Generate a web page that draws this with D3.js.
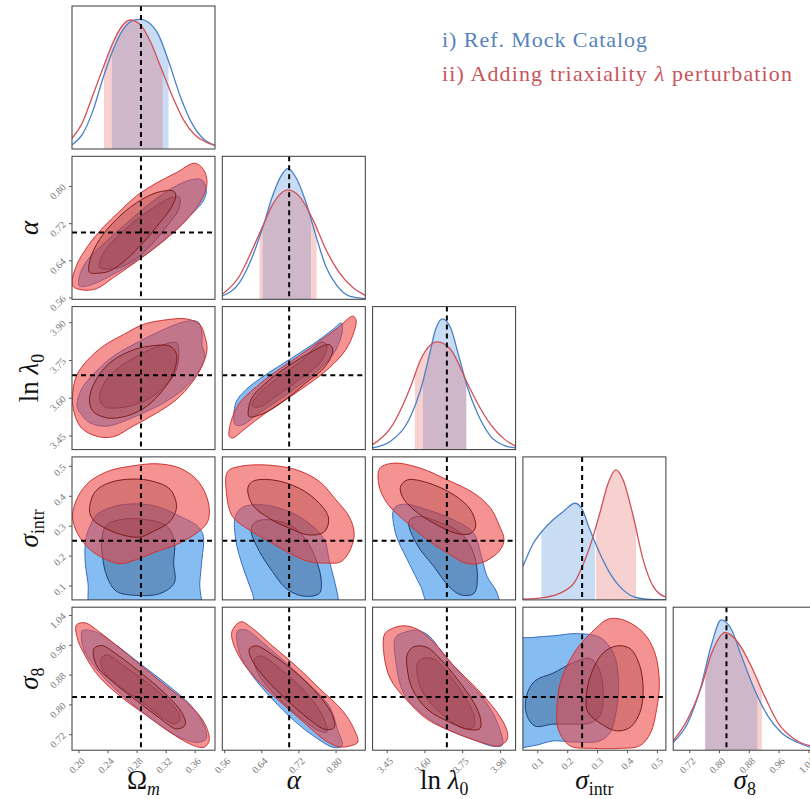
<!DOCTYPE html>
<html>
<head>
<meta charset="utf-8">
<script src="https://cdn.jsdelivr.net/npm/d3@7"></script>
<style>
  body { margin: 0; background: #fff; }
  svg { display: block; }
</style>
</head>
<body>
<div id="chart"></div>
<script>
// ---- parameters ----
const names = ["Om", "alpha", "lnl0", "sint", "s8"]
const ranges = [[0.191, 0.388], [0.556, 0.864], [3.394, 3.962], [0.052, 0.530], [0.677, 1.061]]
const ticks = [
  [0.20, 0.24, 0.28, 0.32, 0.36],
  [0.56, 0.64, 0.72, 0.80],
  [3.45, 3.60, 3.75, 3.90],
  [0.1, 0.2, 0.3, 0.4, 0.5],
  [0.72, 0.80, 0.88, 0.96, 1.04]
]
const tickDigits = [2, 2, 2, 1, 2]
const truth = [0.286, 0.70, 3.689, 0.25, 0.82]

// ---- 1D marginals (relative height) ----
const pdfRef = [
  [[0.191,0.030],[0.205,0.10],[0.220,0.27],[0.234,0.50],[0.248,0.70],[0.262,0.84],[0.275,0.90],[0.285,0.907],[0.295,0.89],[0.310,0.80],[0.325,0.60],[0.340,0.37],[0.355,0.19],[0.370,0.08],[0.388,0.025]],
  [[0.556,0.023],[0.593,0.117],[0.621,0.30],[0.643,0.50],[0.664,0.72],[0.682,0.86],[0.697,0.914],[0.715,0.85],[0.736,0.68],[0.758,0.44],[0.779,0.23],[0.801,0.105],[0.830,0.023],[0.864,0.005]],
  [[3.394,0.012],[3.465,0.058],[3.545,0.233],[3.585,0.42],[3.618,0.65],[3.644,0.84],[3.671,0.914],[3.704,0.85],[3.737,0.65],[3.770,0.44],[3.810,0.256],[3.863,0.093],[3.916,0.03],[3.962,0.012]],
  [[0.052,0.233],[0.087,0.396],[0.120,0.49],[0.153,0.56],[0.187,0.618],[0.226,0.676],[0.248,0.641],[0.276,0.49],[0.309,0.326],[0.343,0.186],[0.376,0.093],[0.421,0.023],[0.465,0.005],[0.530,0.0]],
  [[0.677,0.054],[0.716,0.19],[0.752,0.45],[0.779,0.73],[0.806,0.911],[0.833,0.846],[0.860,0.66],[0.895,0.427],[0.931,0.24],[0.967,0.124],[1.012,0.054],[1.048,0.019],[1.061,0.012]]
]
const pdfPer = [
  [[0.191,0.075],[0.205,0.18],[0.220,0.38],[0.234,0.57],[0.248,0.75],[0.260,0.86],[0.271,0.902],[0.285,0.87],[0.300,0.74],[0.315,0.55],[0.330,0.36],[0.345,0.20],[0.360,0.10],[0.375,0.05],[0.388,0.025]],
  [[0.556,0.035],[0.593,0.163],[0.621,0.35],[0.643,0.51],[0.664,0.66],[0.697,0.765],[0.722,0.72],[0.751,0.56],[0.779,0.35],[0.808,0.186],[0.837,0.082],[0.864,0.028]],
  [[3.394,0.035],[3.465,0.15],[3.545,0.44],[3.585,0.63],[3.651,0.753],[3.704,0.70],[3.770,0.466],[3.810,0.326],[3.863,0.175],[3.916,0.075],[3.962,0.023]],
  [[0.052,0.005],[0.120,0.016],[0.187,0.058],[0.226,0.128],[0.248,0.221],[0.276,0.373],[0.309,0.606],[0.337,0.816],[0.363,0.909],[0.387,0.839],[0.421,0.583],[0.454,0.28],[0.488,0.093],[0.530,0.019]],
  [[0.677,0.065],[0.716,0.217],[0.752,0.438],[0.779,0.67],[0.817,0.823],[0.851,0.753],[0.886,0.59],[0.922,0.38],[0.958,0.193],[1.003,0.077],[1.048,0.03],[1.061,0.025]]
]
const ciRef = [[0.246,0.324],[0.643,0.747],[3.594,3.766],[0.114,0.293],[0.763,0.903]]
const ciPer = [[0.235,0.316],[0.636,0.759],[3.562,3.766],[0.296,0.430],[0.763,0.915]]

// ---- 2D contours (x = column param, y = row param) ----
const cAlphaOm = {
  ref95: [[0.201,0.585],[0.202,0.610],[0.213,0.642],[0.234,0.675],[0.262,0.714],[0.294,0.757],[0.326,0.793],[0.354,0.813],[0.370,0.813],[0.376,0.790],[0.372,0.768],[0.358,0.743],[0.335,0.707],[0.308,0.671],[0.280,0.639],[0.248,0.610],[0.225,0.592],[0.209,0.584]],
  ref68: [[0.229,0.624],[0.232,0.649],[0.248,0.682],[0.275,0.721],[0.303,0.753],[0.328,0.775],[0.339,0.775],[0.338,0.750],[0.324,0.718],[0.301,0.675],[0.278,0.642],[0.255,0.624],[0.239,0.621]],
  per95: [[0.1917,0.585],[0.197,0.628],[0.213,0.671],[0.234,0.711],[0.257,0.746],[0.280,0.779],[0.308,0.807],[0.335,0.829],[0.360,0.849],[0.372,0.836],[0.377,0.807],[0.370,0.772],[0.354,0.736],[0.331,0.700],[0.303,0.664],[0.275,0.632],[0.248,0.603],[0.225,0.579],[0.206,0.576]],
  per68: [[0.215,0.614],[0.216,0.642],[0.229,0.685],[0.252,0.728],[0.280,0.764],[0.308,0.786],[0.331,0.789],[0.334,0.779],[0.328,0.754],[0.312,0.721],[0.289,0.678],[0.266,0.642],[0.243,0.617],[0.225,0.612]]
}
const cLnlOm = {
  ref95: [[0.198,3.566],[0.204,3.633],[0.220,3.692],[0.248,3.765],[0.280,3.818],[0.312,3.864],[0.349,3.904],[0.365,3.900],[0.370,3.858],[0.370,3.811],[0.374,3.765],[0.367,3.712],[0.349,3.646],[0.321,3.586],[0.294,3.546],[0.266,3.511],[0.239,3.487],[0.216,3.500],[0.204,3.533]],
  ref68: [[0.229,3.593],[0.234,3.652],[0.252,3.712],[0.285,3.772],[0.317,3.811],[0.335,3.818],[0.338,3.765],[0.333,3.699],[0.312,3.626],[0.285,3.580],[0.257,3.560],[0.236,3.564]],
  per95: [[0.1917,3.606],[0.197,3.686],[0.211,3.745],[0.234,3.805],[0.262,3.851],[0.289,3.891],[0.317,3.908],[0.349,3.913],[0.367,3.891],[0.374,3.844],[0.377,3.791],[0.370,3.725],[0.356,3.659],[0.335,3.593],[0.308,3.540],[0.275,3.487],[0.248,3.445],[0.225,3.447],[0.204,3.480],[0.194,3.540]],
  per68: [[0.215,3.593],[0.223,3.666],[0.243,3.738],[0.271,3.785],[0.298,3.805],[0.326,3.805],[0.335,3.772],[0.331,3.699],[0.317,3.633],[0.294,3.566],[0.266,3.527],[0.239,3.520],[0.220,3.546]]
}
const cSintOm = {
  ref95: [[0.210,0.253],[0.2156,0.298],[0.225,0.337],[0.248,0.364],[0.280,0.373],[0.308,0.364],[0.340,0.331],[0.365,0.296],[0.372,0.264],[0.370,0.187],[0.367,0.109],[0.365,0.0],[0.220,0.0],[0.213,0.109],[0.209,0.187]],
  ref68: [[0.232,0.253],[0.238,0.300],[0.262,0.322],[0.294,0.320],[0.321,0.300],[0.332,0.248],[0.331,0.176],[0.332,0.109],[0.312,0.073],[0.280,0.067],[0.252,0.081],[0.239,0.131],[0.233,0.198]],
  per95: [[0.1917,0.331],[0.1995,0.398],[0.2156,0.448],[0.243,0.484],[0.275,0.500],[0.308,0.507],[0.340,0.492],[0.365,0.448],[0.379,0.376],[0.378,0.314],[0.363,0.276],[0.335,0.237],[0.308,0.214],[0.280,0.187],[0.257,0.173],[0.234,0.192],[0.216,0.220],[0.1995,0.270]],
  per68: [[0.215,0.353],[0.223,0.414],[0.243,0.444],[0.275,0.456],[0.303,0.448],[0.326,0.422],[0.335,0.364],[0.326,0.314],[0.303,0.281],[0.285,0.262],[0.264,0.267],[0.239,0.289],[0.220,0.320]]
}
const cS8Om = {
  ref95: [[0.205,0.998],[0.223,0.995],[0.250,0.962],[0.285,0.909],[0.321,0.855],[0.354,0.799],[0.372,0.748],[0.376,0.709],[0.365,0.698],[0.342,0.709],[0.312,0.745],[0.280,0.792],[0.248,0.846],[0.221,0.904],[0.207,0.949],[0.204,0.983]],
  ref68: [[0.231,0.922],[0.239,0.933],[0.262,0.904],[0.294,0.859],[0.324,0.810],[0.340,0.766],[0.334,0.748],[0.317,0.763],[0.285,0.810],[0.252,0.855],[0.234,0.891]],
  per95: [[0.197,1.013],[0.209,1.019],[0.229,0.994],[0.257,0.951],[0.289,0.900],[0.321,0.849],[0.354,0.797],[0.374,0.748],[0.380,0.703],[0.373,0.685],[0.358,0.690],[0.326,0.725],[0.294,0.770],[0.262,0.815],[0.229,0.873],[0.209,0.931],[0.198,0.980]],
  per68: [[0.221,0.949],[0.232,0.958],[0.255,0.931],[0.285,0.886],[0.317,0.833],[0.342,0.779],[0.347,0.745],[0.335,0.734],[0.312,0.763],[0.280,0.810],[0.248,0.859],[0.225,0.904]]
}
const cLnlAlpha = {
  ref95: [[0.584,3.493],[0.585,3.579],[0.607,3.632],[0.650,3.692],[0.700,3.751],[0.750,3.811],[0.794,3.871],[0.812,3.897],[0.815,3.871],[0.801,3.791],[0.772,3.725],[0.729,3.659],[0.679,3.593],[0.636,3.540],[0.600,3.493]],
  ref68: [[0.620,3.569],[0.636,3.619],[0.679,3.683],[0.729,3.751],[0.769,3.820],[0.781,3.811],[0.769,3.745],[0.722,3.672],[0.672,3.606],[0.636,3.563]],
  per95: [[0.571,3.447],[0.575,3.507],[0.593,3.579],[0.629,3.643],[0.672,3.705],[0.722,3.767],[0.765,3.824],[0.804,3.877],[0.837,3.924],[0.844,3.910],[0.840,3.864],[0.822,3.791],[0.786,3.718],[0.740,3.652],[0.693,3.593],[0.650,3.540],[0.607,3.480],[0.578,3.440]],
  per68: [[0.613,3.526],[0.618,3.593],[0.650,3.659],[0.700,3.728],[0.751,3.785],[0.786,3.811],[0.794,3.789],[0.778,3.725],[0.736,3.659],[0.693,3.593],[0.650,3.542],[0.621,3.524]]
}
const cSintAlpha = {
  ref95: [[0.584,0.331],[0.600,0.362],[0.643,0.370],[0.700,0.347],[0.743,0.308],[0.776,0.253],[0.786,0.186],[0.797,0.119],[0.806,0.052],[0.806,0.0],[0.636,0.0],[0.621,0.074],[0.600,0.163],[0.585,0.253]],
  ref68: [[0.618,0.286],[0.629,0.314],[0.664,0.319],[0.708,0.297],[0.736,0.253],[0.758,0.186],[0.769,0.119],[0.765,0.074],[0.729,0.065],[0.693,0.091],[0.664,0.147],[0.636,0.214]],
  per95: [[0.5675,0.481],[0.593,0.498],[0.650,0.503],[0.715,0.487],[0.765,0.448],[0.801,0.386],[0.829,0.331],[0.840,0.275],[0.833,0.225],[0.812,0.180],[0.779,0.175],[0.743,0.180],[0.708,0.202],[0.657,0.247],[0.614,0.286],[0.578,0.331],[0.565,0.409]],
  per68: [[0.611,0.425],[0.621,0.448],[0.664,0.453],[0.722,0.425],[0.765,0.375],[0.785,0.325],[0.776,0.280],[0.743,0.269],[0.700,0.292],[0.657,0.325],[0.621,0.370]]
}
const cS8Alpha = {
  ref95: [[0.589,0.997],[0.607,1.000],[0.643,0.966],[0.693,0.912],[0.743,0.854],[0.786,0.796],[0.804,0.733],[0.814,0.689],[0.797,0.684],[0.754,0.714],[0.711,0.756],[0.664,0.814],[0.621,0.877],[0.594,0.935]],
  ref68: [[0.625,0.921],[0.639,0.930],[0.686,0.890],[0.736,0.832],[0.772,0.769],[0.781,0.726],[0.765,0.729],[0.729,0.760],[0.679,0.814],[0.636,0.877]],
  per95: [[0.577,0.997],[0.596,1.022],[0.621,1.004],[0.664,0.957],[0.715,0.903],[0.765,0.843],[0.815,0.783],[0.840,0.733],[0.848,0.699],[0.833,0.689],[0.808,0.686],[0.779,0.702],[0.736,0.747],[0.686,0.801],[0.636,0.859],[0.596,0.921],[0.578,0.971]],
  per68: [[0.614,0.948],[0.629,0.957],[0.672,0.926],[0.722,0.877],[0.765,0.823],[0.794,0.769],[0.797,0.738],[0.779,0.732],[0.743,0.760],[0.693,0.814],[0.650,0.868],[0.621,0.917]]
}
const cSintLnl = {
  ref95: [[3.479,0.358],[3.518,0.372],[3.611,0.353],[3.717,0.319],[3.796,0.275],[3.823,0.208],[3.849,0.130],[3.889,0.074],[3.896,0.0],[3.638,0.0],[3.585,0.097],[3.532,0.186],[3.485,0.275]],
  ref68: [[3.538,0.314],[3.571,0.331],[3.651,0.314],[3.744,0.275],[3.790,0.219],[3.810,0.141],[3.797,0.074],[3.744,0.069],[3.697,0.097],[3.638,0.163],[3.571,0.236]],
  per95: [[3.423,0.492],[3.479,0.509],[3.585,0.492],[3.691,0.453],[3.796,0.409],[3.863,0.358],[3.896,0.303],[3.916,0.253],[3.896,0.214],[3.823,0.175],[3.763,0.175],[3.704,0.202],[3.611,0.253],[3.525,0.314],[3.452,0.375],[3.419,0.436]],
  per68: [[3.505,0.431],[3.532,0.453],[3.611,0.444],[3.717,0.403],[3.783,0.353],[3.803,0.297],[3.781,0.273],[3.724,0.275],[3.638,0.308],[3.558,0.353],[3.512,0.397]]
}
const cS8Lnl = {
  ref95: [[3.485,0.980],[3.518,0.993],[3.571,0.999],[3.618,0.984],[3.671,0.939],[3.750,0.877],[3.836,0.814],[3.892,0.747],[3.909,0.691],[3.876,0.687],[3.796,0.705],[3.691,0.733],[3.585,0.778],[3.516,0.832],[3.489,0.903]],
  ref68: [[3.571,0.908],[3.591,0.923],[3.638,0.921],[3.691,0.886],[3.757,0.823],[3.797,0.769],[3.794,0.738],[3.757,0.735],[3.691,0.762],[3.611,0.814],[3.578,0.859]],
  per95: [[3.442,0.989],[3.472,1.004],[3.518,1.011],[3.571,1.002],[3.638,0.966],[3.717,0.903],[3.810,0.841],[3.889,0.778],[3.926,0.733],[3.929,0.707],[3.900,0.689],[3.836,0.696],[3.717,0.725],[3.611,0.760],[3.532,0.810],[3.465,0.868],[3.439,0.935]],
  per68: [[3.532,0.935],[3.558,0.955],[3.611,0.953],[3.664,0.921],[3.730,0.868],[3.796,0.805],[3.823,0.760],[3.820,0.735],[3.781,0.732],[3.704,0.751],[3.611,0.787],[3.552,0.841],[3.532,0.895]]
}
const cS8Sint = {
  ref95: [[0.0,0.966],[0.087,0.980],[0.153,0.984],[0.231,0.990],[0.309,0.980],[0.354,0.939],[0.372,0.859],[0.365,0.787],[0.343,0.724],[0.309,0.702],[0.220,0.699],[0.153,0.702],[0.087,0.689],[0.0,0.689]],
  ref68: [[0.064,0.823],[0.092,0.863],[0.153,0.884],[0.220,0.912],[0.276,0.923],[0.309,0.890],[0.320,0.823],[0.309,0.769],[0.276,0.750],[0.220,0.747],[0.153,0.747],[0.092,0.742],[0.064,0.774]],
  per95: [[0.167,0.805],[0.181,0.868],[0.231,0.948],[0.293,1.002],[0.337,1.029],[0.387,1.027],[0.454,0.993],[0.493,0.939],[0.508,0.859],[0.499,0.787],[0.479,0.724],[0.443,0.689],[0.376,0.682],[0.287,0.682],[0.209,0.689],[0.170,0.734]],
  per68: [[0.263,0.809],[0.278,0.877],[0.320,0.938],[0.365,0.957],[0.410,0.950],[0.441,0.908],[0.454,0.841],[0.443,0.778],[0.410,0.738],[0.365,0.729],[0.309,0.750],[0.270,0.778]]
}
// [row, col, contours]
const panels2d = [
  [1, 0, cAlphaOm], [2, 0, cLnlOm], [3, 0, cSintOm], [4, 0, cS8Om],
  [2, 1, cLnlAlpha], [3, 1, cSintAlpha], [4, 1, cS8Alpha],
  [3, 2, cSintLnl], [4, 2, cS8Lnl],
  [4, 3, cS8Sint]
]

// ---- layout ----
const W = 810, H = 799
const padL = 72, padT = 6, size = 143, step = 150.3
const serif = "'Liberation Serif', 'DejaVu Serif', serif"

const refLine = "#4a80c8", perLine = "#d2505a"
const contourStyle = [
  { key: "ref95", fill: "#3390e8", op: 0.6, stroke: "#3b6fc0" },
  { key: "ref68", fill: "#2a4f78", op: 0.38, stroke: "#1d3f78" },
  { key: "per95", fill: "#ee4444", op: 0.58, stroke: "#cf3434" },
  { key: "per68", fill: "#9a3434", op: 0.32, stroke: "#7d1c1c" }
]

const svg = d3.select("#chart").append("svg")
  .attr("width", W).attr("height", H)
  .style("background", "#fff")
const defs = svg.append("defs")

const xs = ranges.map(r => d3.scaleLinear().domain(r).range([0, size]))
const ys = ranges.map(r => d3.scaleLinear().domain(r).range([size, 0]))
const dens = d3.scaleLinear().domain([0, 1]).range([size, 0])

function panelGroup(row, col) {
  const id = `clip-${row}-${col}`
  defs.append("clipPath").attr("id", id)
    .append("rect").attr("width", size).attr("height", size)
  const g = svg.append("g")
    .attr("transform", `translate(${padL + col * step},${padT + row * step})`)
  const inner = g.append("g").attr("clip-path", `url(#${id})`)
  return [g, inner]
}

function dashed(inner, row, col) {
  inner.append("line")
    .attr("x1", xs[col](truth[col])).attr("x2", xs[col](truth[col]))
    .attr("y1", 0).attr("y2", size)
    .attr("stroke", "#000").attr("stroke-width", 2).attr("stroke-dasharray", "5,4")
  if (row !== col) {
    inner.append("line")
      .attr("x1", 0).attr("x2", size)
      .attr("y1", ys[row](truth[row])).attr("y2", ys[row](truth[row]))
      .attr("stroke", "#000").attr("stroke-width", 2).attr("stroke-dasharray", "5,4")
  }
}

// diagonal
for (let i = 0; i < 5; i++) {
  const [g, inner] = panelGroup(i, i)
  const area = d3.area().x(d => xs[i](d[0])).y0(size).y1(d => dens(d[1])).curve(d3.curveMonotoneX)
  const line = d3.line().x(d => xs[i](d[0])).y(d => dens(d[1])).curve(d3.curveMonotoneX)
  const sets = [[pdfRef[i], ciRef[i], "#2b7bd6"], [pdfPer[i], ciPer[i], "#e04848"]]
  sets.forEach((s, k) => {
    const cid = `ci-${i}-${k}`
    defs.append("clipPath").attr("id", cid).append("rect")
      .attr("x", xs[i](s[1][0])).attr("width", xs[i](s[1][1]) - xs[i](s[1][0]))
      .attr("y", 0).attr("height", size)
    inner.append("g").attr("clip-path", `url(#${cid})`)
      .append("path").attr("d", area(s[0]))
      .attr("fill", s[2]).attr("fill-opacity", 0.26)
  })
  inner.append("path").attr("d", line(pdfRef[i])).attr("fill", "none").attr("stroke", refLine).attr("stroke-width", 1.3)
  inner.append("path").attr("d", line(pdfPer[i])).attr("fill", "none").attr("stroke", perLine).attr("stroke-width", 1.3)
  dashed(inner, i, i)
}

// off-diagonal
panels2d.forEach(([row, col, c]) => {
  const [g, inner] = panelGroup(row, col)
  const line = d3.line()
    .x(d => xs[col](d[0])).y(d => ys[row](d[1]))
    .curve(d3.curveCatmullRomClosed.alpha(0.5))
  contourStyle.forEach(st => {
    inner.append("path").attr("d", line(c[st.key]))
      .attr("fill", st.fill).attr("fill-opacity", st.op)
      .attr("stroke", st.stroke).attr("stroke-width", 1)
  })
  dashed(inner, row, col)
})

// frames and axes
for (let row = 0; row < 5; row++) {
  for (let col = 0; col <= row; col++) {
    const g = svg.append("g")
      .attr("transform", `translate(${padL + col * step},${padT + row * step})`)
    g.append("rect").attr("width", size).attr("height", size)
      .attr("fill", "none").attr("stroke", "#3a3a3a").attr("stroke-width", 1)

    if (col === 0 && row > 0) {
      const ax = g.append("g").call(d3.axisLeft(ys[row]).tickValues(ticks[row])
        .tickSize(3).tickFormat(d3.format(`.${tickDigits[row]}f`)))
      ax.select(".domain").remove()
      ax.selectAll("line").attr("stroke", "#555")
      ax.selectAll("text")
        .attr("x", 0).attr("y", 0).attr("dy", "0.35em")
        .attr("transform", "translate(-8,-1) rotate(-45)")
        .attr("text-anchor", "end")
        .attr("fill", "#777").style("font-family", serif).style("font-size", "10px")
    }
    if (row === 4) {
      const ax = g.append("g").attr("transform", `translate(0,${size})`)
        .call(d3.axisBottom(xs[col]).tickValues(ticks[col])
          .tickSize(3).tickFormat(d3.format(`.${tickDigits[col]}f`)))
      ax.select(".domain").remove()
      ax.selectAll("line").attr("stroke", "#555")
      ax.selectAll("text")
        .attr("x", 0).attr("y", 0).attr("dy", "0.35em")
        .attr("transform", "translate(4,9) rotate(-45)")
        .attr("text-anchor", "end")
        .attr("fill", "#777").style("font-family", serif).style("font-size", "10px")
    }
  }
}

// axis labels
function writeLabel(t, i) {
  const sub = (s, italic) => t.append("tspan").attr("dy", "0.32em").style("font-size", "0.66em")
    .style("font-style", italic ? "italic" : "normal").text(s)
  if (i === 0) { t.append("tspan").text("Ω"); sub("m", true) }
  if (i === 1) { t.append("tspan").style("font-style", "italic").text("α") }
  if (i === 2) { t.append("tspan").text("ln "); t.append("tspan").style("font-style", "italic").text("λ"); sub("0", false) }
  if (i === 3) { t.append("tspan").style("font-style", "italic").text("σ"); sub("intr", false) }
  if (i === 4) { t.append("tspan").style("font-style", "italic").text("σ"); sub("8", false) }
}
for (let i = 0; i < 5; i++) {
  const t = svg.append("text")
    .attr("x", padL + i * step + size / 2).attr("y", 789)
    .attr("text-anchor", "middle").style("font-family", serif).style("font-size", "27px").attr("fill", "#111")
  writeLabel(t, i)
}
for (let i = 1; i < 5; i++) {
  const t = svg.append("text")
    .attr("transform", `translate(38,${padT + i * step + size / 2}) rotate(-90)`)
    .attr("text-anchor", "middle").style("font-family", serif).style("font-size", "27px").attr("fill", "#111")
  writeLabel(t, i)
}

// legend
svg.append("text").attr("x", 442).attr("y", 47)
  .style("font-family", serif).style("font-size", "22px").attr("fill", "#5582bd")
  .attr("textLength", 205).attr("lengthAdjust", "spacing")
  .text("i) Ref. Mock Catalog")
const l2 = svg.append("text").attr("x", 442).attr("y", 81)
  .style("font-family", serif).style("font-size", "22px").attr("fill", "#c9545c")
  .attr("textLength", 350).attr("lengthAdjust", "spacing")
l2.append("tspan").text("ii) Adding triaxiality ")
l2.append("tspan").style("font-style", "italic").text("λ")
l2.append("tspan").text(" perturbation")
</script>
</body>
</html>
